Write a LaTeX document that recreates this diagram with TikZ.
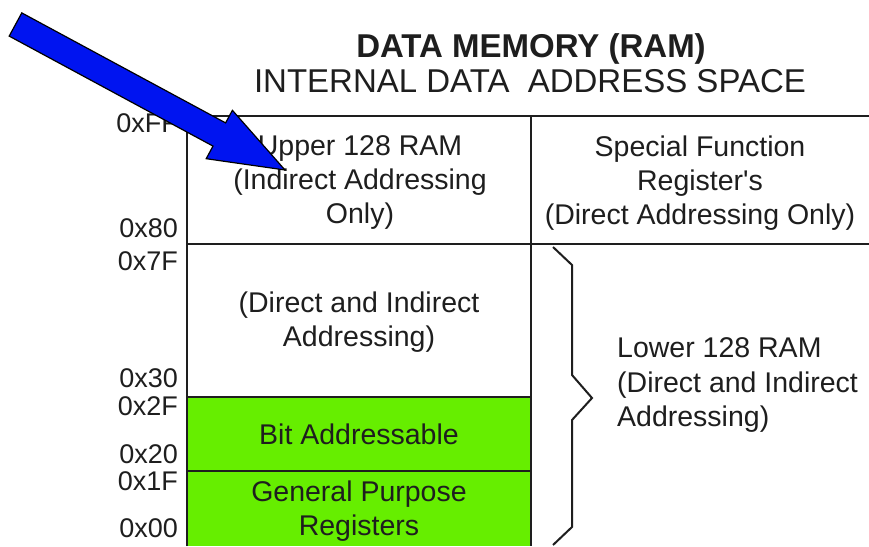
\documentclass[tikz,border=0pt]{standalone}
\usepackage{fontspec}
\setmainfont{Liberation Sans}[Ligatures=TeXOff]
\definecolor{ramgreen}{RGB}{102,238,0}
\definecolor{arrowblue}{RGB}{0,20,240}
\definecolor{ink}{RGB}{30,30,30}
\begin{document}
\begin{tikzpicture}[x=1pt,y=-1pt,
  grid/.style={line width=2pt,draw=ink},
  areatext/.style={font=\fontsize{28.5}{34}\selectfont,text=ink,align=center,inner sep=0pt},
  addr/.style={font=\fontsize{27}{30}\selectfont,text=ink,anchor=base east,inner sep=0pt},
  title/.style={font=\fontsize{33}{36}\selectfont,text=ink,anchor=base,inner sep=0pt}]
\useasboundingbox (0,0) rectangle (869,546);
\fill[white] (0,0) rectangle (869,546);

% green register banks
\fill[ramgreen] (187,397) rectangle (531,546);

% memory map grid
\draw[grid] (187,546) -- (187,116) -- (869,116);
\draw[grid] (531,116) -- (531,546);
\draw[grid] (187,244) -- (869,244);
\draw[grid] (187,397) -- (531,397);
\draw[grid] (187,471) -- (531,471);

% brace grouping the lower 128 bytes
\draw[line width=2pt,draw=ink,line join=miter]
  (553,247) -- (572,265) -- (572,375) -- (592,398) -- (572,420) -- (572,527) -- (553,545);

% titles
\node[title,font=\bfseries\fontsize{33}{36}\selectfont] (t1) at (531,57) {DATA MEMORY (RAM)};
\node[title] (t2) at (530,92) {INTERNAL DATA\ \ ADDRESS SPACE};

% area labels
\node[areatext] (upper) at (360,183) {Upper 128 RAM\\(Indirect Addressing\\Only)};
\node[areatext] (sfr) at (700,183) {Special Function\\Register's\\(Direct Addressing Only)};
\node[areatext] (direct) at (359,322) {(Direct and Indirect\\Addressing)};
\node[areatext] (bit) at (359,434) {Bit Addressable};
\node[areatext] (gpr) at (359,511) {General Purpose\\Registers};
\node[areatext,align=left,anchor=west] (lower) at (617,385) {Lower 128 RAM\\(Direct and Indirect\\Addressing)};

% address labels
\node[addr] (aFF) at (178,132) {0xFF};
\node[addr] (a80) at (178,237) {0x80};
\node[addr] (a7F) at (178,270) {0x7F};
\node[addr] (a30) at (178,387) {0x30};
\node[addr] (a2F) at (178,415) {0x2F};
\node[addr] (a20) at (178,463) {0x20};
\node[addr] (a1F) at (178,490) {0x1F};
\node[addr] (a00) at (178,537) {0x00};

% pointer arrow
\draw[line width=1.2pt,draw=black,fill=arrowblue,line join=miter]
  (21.8,12.9) -- (225.6,122.9) -- (232.4,110.3) -- (285,170)
  -- (206.2,158.7) -- (213,146.1) -- (9.2,36.1) -- cycle;
\end{tikzpicture}
\end{document}
